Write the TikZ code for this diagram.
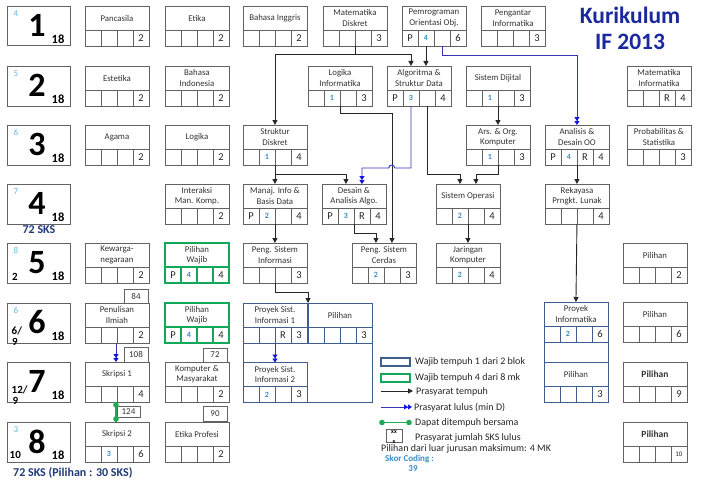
\documentclass[tikz,border=0pt]{standalone}
\usepackage{fontspec}
\setmainfont{Carlito}
\usetikzlibrary{arrows.meta,calc}
\definecolor{boxc}{HTML}{626262}
\definecolor{greenc}{HTML}{12A85A}
\definecolor{blockc}{HTML}{3F5E8C}
\definecolor{bluel}{HTML}{3434B4}
\definecolor{blueh}{HTML}{1515E0}
\definecolor{bdig}{HTML}{3A8CC4}
\definecolor{semtopc}{HTML}{62BCE0}
\definecolor{navy}{HTML}{1F3A78}
\definecolor{titlec}{HTML}{1A2A9E}
\definecolor{labc}{HTML}{333333}
\definecolor{dotg}{HTML}{1FAA55}
\tikzset{
  cbox/.style={minimum width=63.5pt, minimum height=39.5pt, inner sep=0pt, anchor=north west},
  sbox/.style={draw=boxc, line width=0.7pt, minimum width=63pt, minimum height=39.5pt, inner sep=0pt, anchor=north west},
  lbl/.style={font=\fontsize{8.8}{10.5}\selectfont, align=center, inner sep=0pt, text=labc},
  cell/.style={font=\fontsize{10.5}{12}\selectfont, inner sep=0pt, text=black!85},
  bcell/.style={font=\fontsize{8}{9}\selectfont\bfseries, inner sep=0pt, text=bdig},
  bignum/.style={font=\fontsize{34}{36}\selectfont\bfseries, inner sep=0pt},
  semsks/.style={font=\fontsize{12.5}{14}\selectfont\bfseries, inner sep=0pt},
  semtop/.style={font=\fontsize{9}{10}\selectfont, text=semtopc, inner sep=0pt},
  semsub/.style={font=\fontsize{11}{12}\selectfont\bfseries, inner sep=0pt, anchor=west},
  nbox/.style={draw=boxc, line width=0.6pt, minimum width=24pt, minimum height=14pt, inner sep=0pt, font=\fontsize{9}{10}\selectfont, text=black!80},
  pre/.style={-{Triangle[length=5pt,width=5pt]}, line width=0.9pt, draw=black!85},
  lul/.style={-{Triangle[length=4pt,width=5pt,color=blueh]Triangle[length=4pt,width=5pt,color=blueh]}, line width=0.9pt, draw=bluel},
  bers/.style={line width=1.2pt, draw=dotg},
  blk/.style={draw=blockc, line width=1.1pt, inner sep=0pt, anchor=north west},
  legt/.style={font=\fontsize{10}{12}\selectfont, anchor=west, inner sep=0pt, text=black!85},
}
% #1 colour, #2 name, #3 x, #4 y, #5 label, #6 cell1, #7 blue cell2, #8 cell3, #9 cell4
\newcommand\crs[9]{%
  \node[cbox] (#2) at (#3,#4) {};
  \draw[draw=#1, line width=\crslw] (#2.north west) rectangle (#2.south east)
    ([yshift=16pt]#2.south west) -- ([yshift=16pt]#2.south east)
    ($(#2.south west)!0.25!(#2.south east)$) -- ++(0pt,16pt)
    ($(#2.south west)!0.5!(#2.south east)$) -- ++(0pt,16pt)
    ($(#2.south west)!0.75!(#2.south east)$) -- ++(0pt,16pt);
  \node[lbl] (#2-l) at ([yshift=-12pt]#2.north) {#5};
  \node[cell] (#2-a) at ($([yshift=8pt]#2.south west)!0.125!([yshift=8pt]#2.south east)$) {#6};
  \node[bcell] (#2-b) at ($([yshift=8pt]#2.south west)!0.375!([yshift=8pt]#2.south east)$) {#7};
  \node[cell] (#2-c) at ($([yshift=8pt]#2.south west)!0.625!([yshift=8pt]#2.south east)$) {#8};
  \node[cell] (#2-d) at ($([yshift=8pt]#2.south west)!0.875!([yshift=8pt]#2.south east)$) {#9};
}
\def\crslw{0.6pt}
\newcommand\sem[4]{%
  \node[sbox] (#1) at (7,#2) {};
  \node[bignum] (#1-n) at ([shift={(30pt,-19.5pt)}]#1.north west) {#3};
  \node[semsks] (#1-s) at ([shift={(51pt,-33pt)}]#1.north west) {18};
  \node[semtop] (#1-t) at ([shift={(9pt,-7.5pt)}]#1.north west) {#4};
}
\begin{document}
\begin{tikzpicture}[x=1pt,y=-1pt]
\useasboundingbox[fill=white] (0,0) rectangle (701,487);

% title
\node[font=\fontsize{23.5}{26}\selectfont\bfseries, text=titlec, align=center, inner sep=0pt] (title) at (630,28) {Kurikulum\\IF 2013};

% semesters
\sem{s1}{6}{1}{4}
\sem{s2}{66}{2}{5}
\sem{s3}{125}{3}{6}
\sem{s4}{184}{4}{7}
\sem{s5}{243}{5}{8}
\sem{s6}{303}{6}{6}
\sem{s7}{362}{7}{}
\sem{s8}{422}{8}{3}
\node[semsub] (s5-b) at (12,277) {2};
\node[semsub] (s6-b1) at (11.5,331) {6/};
\node[semsub] (s6-b2) at (12,342) {9};
\node[semsub] (s7-b1) at (11.5,389.5) {12/};
\node[semsub] (s7-b2) at (12.5,401) {9};
\node[semsub] (s8-b) at (9.5,455) {10};
\node[font=\fontsize{12}{14}\selectfont\bfseries, text=navy, inner sep=0pt] (sks1) at (39,230) {72 SKS};
\node[font=\fontsize{12}{14}\selectfont\bfseries, text=navy, inner sep=0pt, anchor=west] (sks2) at (13,473) {72 SKS (Pilihan : 30 SKS)};

% row 1
\crs{boxc}{pan}{85}{6}{Pancasila}{}{}{}{2}
\crs{boxc}{eti}{165}{6}{Etika}{}{}{}{2}
\crs{boxc}{bing}{243}{6}{Bahasa Inggris}{}{}{}{2}
\crs{boxc}{md}{323}{6}{Matematika\\Diskret}{}{}{}{3}
\crs{boxc}{pbo}{402}{6}{Pemrograman\\Orientasi Obj.}{P}{4}{}{6}
\crs{boxc}{pif}{481}{6}{Pengantar\\Informatika}{}{}{}{3}
% row 2
\crs{boxc}{est}{85}{66}{Estetika}{}{}{}{2}
\crs{boxc}{bind}{165}{66}{Bahasa\\Indonesia}{}{}{}{2}
\crs{boxc}{li}{308}{66}{Logika\\Informatika}{}{1}{}{3}
\crs{boxc}{alg}{387}{66}{Algoritma \&\\Struktur Data}{P}{3}{}{4}
\crs{boxc}{sdj}{466}{66}{Sistem Dijital}{}{1}{}{3}
\crs{boxc}{mi}{627}{66}{Matematika\\Informatika}{}{}{R}{4}
% row 3
\crs{boxc}{aga}{85}{125}{Agama}{}{}{}{2}
\crs{boxc}{log}{165}{125}{Logika}{}{}{}{2}
\crs{boxc}{sd}{243}{125}{Struktur\\Diskret}{}{1}{}{4}
\crs{boxc}{ars}{466}{125}{Ars. \& Org.\\Komputer}{}{1}{}{3}
\crs{boxc}{ado}{545}{125}{Analisis \&\\Desain OO}{P}{4}{R}{4}
\crs{boxc}{ps}{627}{125}{Probabilitas \&\\Statistika}{}{}{}{3}
% row 4
\crs{boxc}{imk}{165}{184}{Interaksi\\Man. Komp.}{}{}{}{2}
\crs{boxc}{mib}{243}{184}{Manaj. Info \&\\Basis Data}{P}{2}{}{4}
\crs{boxc}{daa}{322}{184}{Desain \&\\Analisis Algo.}{P}{3}{R}{4}
\crs{boxc}{so}{436}{184}{Sistem Operasi}{}{2}{}{4}
\crs{boxc}{rpl}{545}{184}{Rekayasa\\Prngkt. Lunak}{}{}{}{4}
% row 5
\crs{boxc}{kew}{85}{243}{Kewarga-\\negaraan}{}{}{}{2}
\def\crslw{1.3pt}
\crs{greenc}{pwa}{165}{243}{Pilihan\\Wajib}{P}{4}{}{4}
\def\crslw{0.6pt}
\crs{boxc}{psi}{243}{243}{Peng. Sistem\\Informasi}{}{}{}{3}
\crs{boxc}{psc}{352}{243}{Peng. Sistem\\Cerdas}{}{2}{}{3}
\crs{boxc}{jk}{436}{243}{Jaringan\\Komputer}{}{2}{}{4}
\crs{boxc}{plv}{623}{243}{Pilihan}{}{}{}{2}
% row 6
\crs{boxc}{pil}{85}{303}{Penulisan\\Ilmiah}{}{}{}{2}
\def\crslw{1.3pt}
\crs{greenc}{pwb}{165}{303}{Pilihan\\Wajib}{P}{4}{}{4}
\def\crslw{0.8pt}
\crs{blockc}{psia}{243}{303}{Proyek Sist.\\Informasi 1}{}{}{R}{3}
\crs{blockc}{plsa}{308}{303}{Pilihan}{}{}{}{3}
\crs{blockc}{pinf}{544}{302}{Proyek\\Informatika}{}{2}{}{6}
\def\crslw{0.6pt}
\crs{boxc}{plw}{623}{302}{Pilihan}{}{}{}{6}
% row 7
\crs{boxc}{ska}{85}{362}{Skripsi 1}{}{}{}{4}
\crs{boxc}{km}{165}{362}{Komputer \&\\Masyarakat}{}{}{}{2}
\def\crslw{0.8pt}
\crs{blockc}{psib}{243}{362.5}{Proyek Sist.\\Informasi 2}{}{2}{}{3}
\crs{blockc}{plpa}{544}{362.5}{Pilihan}{}{}{}{3}
\def\crslw{0.6pt}
\crs{boxc}{plx}{623}{362}{\textbf{\fontsize{9.5}{11}\selectfont Pilihan}}{}{}{}{9}
% row 8
\crs{boxc}{skb}{85}{422}{Skripsi 2}{}{3}{}{6}
\crs{boxc}{ep}{165}{422}{Etika Profesi}{}{}{}{2}
\crs{boxc}{ply}{623}{422}{\textbf{\fontsize{9.5}{11}\selectfont Pilihan}}{}{}{}{{\fontsize{7}{8}\selectfont 10}}

% blocks
\node[blk, minimum width=129pt, minimum height=99pt] (blka) at (243,303) {};
\node[blk, minimum width=63.5pt, minimum height=100pt] (blkb) at (544,302) {};

% SKS boxes
\node[nbox] (n84) at (136,296) {84};
\node[nbox, minimum height=15pt] (n108) at (136,354.5) {108};
\node[nbox] (n72) at (215,355) {72};
\node[nbox, minimum width=23pt, minimum height=11pt] (n124) at (128.5,411.5) {124};
\node[nbox, minimum height=15pt] (n90) at (215,414) {90};

% connectors
\coordinate (jmd) at ($(md.south)+(0,9)$);
\draw[pre] (md.south) -- (jmd) -| (sd.north);
\draw[pre] (jmd) -| ([xshift=-8pt]alg.north);
\draw[pre] ([xshift=-8pt]pbo.south) -- ([xshift=-8pt]pbo.south |- alg.north);
\draw[lul] ([xshift=8pt]pbo.south) -- ++(0pt,-9.5pt) -| (ado.north);
\draw[pre] (sdj.south) -- (ars.north);
\draw[pre] (li.south) -- ++(0pt,-7.5pt) -| ([xshift=8pt]psc.north);
\coordinate (hopr) at (394.75,168);
\draw[lul] ([xshift=-8pt]alg.south) |- (hopr) arc[start angle=0,end angle=180,radius=3pt] -| ([xshift=8pt]daa.north);
\draw[pre] ([xshift=8pt]alg.south) -- ++(0pt,-68.5pt) -| ([xshift=-8pt]so.north);
\draw[pre] (ars.south) -- ++(0pt,-9.5pt) -| ([xshift=8pt]so.north);
\draw[pre] (sd.south) -- (mib.north);
\draw[pre] (sd.south) -- ++(0pt,-9.5pt) -| ([xshift=-8pt]daa.north);
\draw[pre] (mib.south) -- (psi.north);
\draw[pre] (daa.south) -- ++(0pt,-9.5pt) -| ([xshift=-8pt]psc.north);
\draw[pre] (so.south) -- (jk.north);
\draw[pre] (ado.south) -- (rpl.north);
\draw[pre] (rpl.south) -- (pinf.north);
\draw[pre] (psi.south) -- ++(0pt,-10pt) -| (blka.north);
\draw[lul] (psia.south) -- (psib.north);
\draw[lul] ([xshift=-1pt]pil.south) -- ([xshift=-1pt]ska.north);
\draw[bers] ([xshift=-1pt]ska.south) -- ([xshift=-1pt]skb.north);
\fill[dotg] ([shift={(-1pt,-3pt)}]ska.south) circle (2.8pt);
\fill[dotg] ([shift={(-1pt,3pt)}]skb.north) circle (2.8pt);

% legend
\node[draw=blockc, line width=1.1pt, minimum width=29pt, minimum height=8pt, inner sep=0pt] (lg1) at (395.5,362) {};
\node[legt] (lg1t) at (415,362) {Wajib tempuh 1 dari 2 blok};
\node[draw=greenc, line width=1.1pt, minimum width=29pt, minimum height=8pt, inner sep=0pt] (lg2) at (395.5,378) {};
\node[legt] (lg2t) at (415,378) {Wajib tempuh 4 dari 8 mk};
\coordinate (lg3a) at (381,391);
\coordinate (lg3b) at (413,391);
\node[legt] (lg3t) at (416,392) {Prasyarat tempuh};
\draw[pre] (lg3a) -- (lg3b);
\coordinate (lg4a) at (381,407);
\coordinate (lg4b) at (412,407);
\node[legt] (lg4t) at (414,407.5) {Prasyarat lulus (min D)};
\draw[lul] (lg4a) -- (lg4b);
\coordinate (lg5a) at (382,422.5);
\coordinate (lg5b) at (409,422.5);
\draw[bers] (lg5a) -- (lg5b);
\fill[dotg] (lg5a) circle (2.8pt);
\fill[dotg] (lg5b) circle (2.8pt);
\node[legt] (lg5t) at (415,423) {Dapat ditempuh bersama};
\node[draw=boxc, line width=0.6pt, minimum width=16pt, minimum height=13pt, inner sep=0pt] (lg6) at (394,435.5) {};
\node[font=\fontsize{6}{7}\selectfont\bfseries, inner sep=0pt] (lg6x) at ([yshift=-3pt]lg6.north) {xx};
\node[font=\fontsize{6}{7}\selectfont\bfseries, inner sep=0pt] (lg6y) at (lg6.south) {x};
\node[legt] (lg6t) at (415,437.5) {Prasyarat jumlah SKS lulus};
\node[legt] (lg7) at (381,449) {Pilihan dari luar jurusan maksimum: 4 MK};
\node[font=\fontsize{9}{10}\selectfont\bfseries, text=bdig, anchor=west, inner sep=0pt] (skor) at (385,459) {Skor Coding :};
\node[font=\fontsize{9}{10}\selectfont\bfseries, text=bdig, inner sep=0pt] (skorn) at (413,469) {39};
\end{tikzpicture}
\end{document}
